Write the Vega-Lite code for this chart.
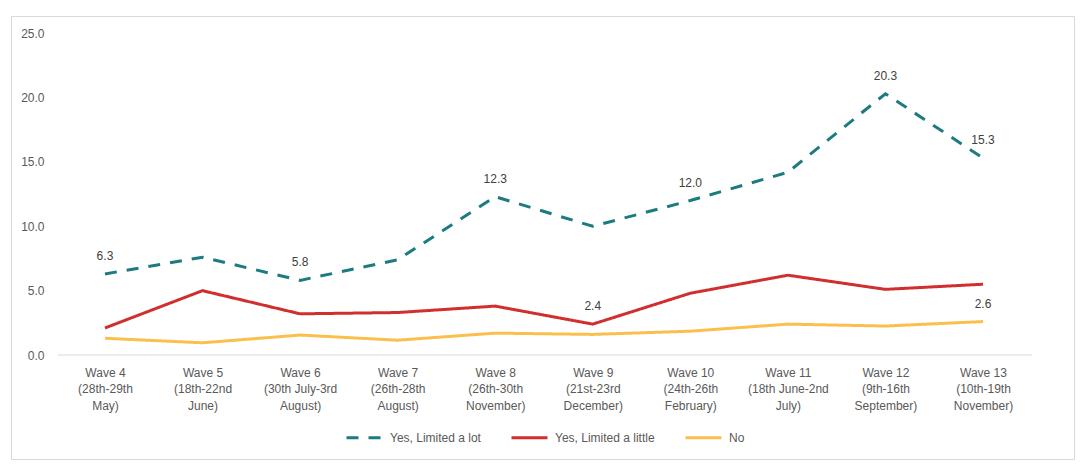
{
  "$schema": "https://vega.github.io/schema/vega-lite/v6.json",
  "width": 1063,
  "height": 443,
  "autosize": {"type": "none"},
  "padding": {"left": 11, "top": 16, "right": 11, "bottom": 17},
  "background": "white",
  "config": {
    "view": {"stroke": "#d9d9d9", "strokeWidth": 1},
    "font": "Liberation Sans",
    "text": {"font": "Liberation Sans"}
  },
  "datasets": {
    "series": [
      {"wave": "Wave 4|(28th-29th|May)", "series": "Yes, Limited a lot", "value": 6.3, "labeled": true},
      {"wave": "Wave 5|(18th-22nd|June)", "series": "Yes, Limited a lot", "value": 7.6, "labeled": false},
      {"wave": "Wave 6|(30th July-3rd|August)", "series": "Yes, Limited a lot", "value": 5.8, "labeled": true},
      {"wave": "Wave 7|(26th-28th|August)", "series": "Yes, Limited a lot", "value": 7.4, "labeled": false},
      {"wave": "Wave 8|(26th-30th|November)", "series": "Yes, Limited a lot", "value": 12.3, "labeled": true},
      {"wave": "Wave 9|(21st-23rd|December)", "series": "Yes, Limited a lot", "value": 10.0, "labeled": false},
      {"wave": "Wave 10|(24th-26th|February)", "series": "Yes, Limited a lot", "value": 12.0, "labeled": true},
      {"wave": "Wave 11|(18th June-2nd|July)", "series": "Yes, Limited a lot", "value": 14.2, "labeled": false},
      {"wave": "Wave 12|(9th-16th|September)", "series": "Yes, Limited a lot", "value": 20.3, "labeled": true},
      {"wave": "Wave 13|(10th-19th|November)", "series": "Yes, Limited a lot", "value": 15.3, "labeled": true},
      {"wave": "Wave 4|(28th-29th|May)", "series": "Yes, Limited a little", "value": 2.1, "labeled": false},
      {"wave": "Wave 5|(18th-22nd|June)", "series": "Yes, Limited a little", "value": 5.0, "labeled": false},
      {"wave": "Wave 6|(30th July-3rd|August)", "series": "Yes, Limited a little", "value": 3.2, "labeled": false},
      {"wave": "Wave 7|(26th-28th|August)", "series": "Yes, Limited a little", "value": 3.3, "labeled": false},
      {"wave": "Wave 8|(26th-30th|November)", "series": "Yes, Limited a little", "value": 3.8, "labeled": false},
      {"wave": "Wave 9|(21st-23rd|December)", "series": "Yes, Limited a little", "value": 2.4, "labeled": true},
      {"wave": "Wave 10|(24th-26th|February)", "series": "Yes, Limited a little", "value": 4.8, "labeled": false},
      {"wave": "Wave 11|(18th June-2nd|July)", "series": "Yes, Limited a little", "value": 6.2, "labeled": false},
      {"wave": "Wave 12|(9th-16th|September)", "series": "Yes, Limited a little", "value": 5.1, "labeled": false},
      {"wave": "Wave 13|(10th-19th|November)", "series": "Yes, Limited a little", "value": 5.5, "labeled": false},
      {"wave": "Wave 4|(28th-29th|May)", "series": "No", "value": 1.3, "labeled": false},
      {"wave": "Wave 5|(18th-22nd|June)", "series": "No", "value": 0.95, "labeled": false},
      {"wave": "Wave 6|(30th July-3rd|August)", "series": "No", "value": 1.55, "labeled": false},
      {"wave": "Wave 7|(26th-28th|August)", "series": "No", "value": 1.15, "labeled": false},
      {"wave": "Wave 8|(26th-30th|November)", "series": "No", "value": 1.7, "labeled": false},
      {"wave": "Wave 9|(21st-23rd|December)", "series": "No", "value": 1.6, "labeled": false},
      {"wave": "Wave 10|(24th-26th|February)", "series": "No", "value": 1.85, "labeled": false},
      {"wave": "Wave 11|(18th June-2nd|July)", "series": "No", "value": 2.4, "labeled": false},
      {"wave": "Wave 12|(9th-16th|September)", "series": "No", "value": 2.25, "labeled": false},
      {"wave": "Wave 13|(10th-19th|November)", "series": "No", "value": 2.6, "labeled": true}
    ]
  },
  "layer": [
    {
      "data": {"values": [{"baseline": 0}]},
      "mark": {"type": "rule", "color": "#d9d9d9", "strokeWidth": 1, "xOffset": -47, "x2Offset": 49},
      "encoding": {
        "x": {"datum": "Wave 4|(28th-29th|May)", "type": "ordinal"},
        "x2": {"datum": "Wave 13|(10th-19th|November)"},
        "y": {"field": "baseline", "type": "quantitative"}
      }
    },
    {
      "data": {"name": "series"},
      "mark": {"type": "line", "strokeWidth": 3},
      "encoding": {
        "x": {
          "field": "wave",
          "type": "ordinal",
          "scale": {
            "type": "point",
            "domain": ["Wave 4|(28th-29th|May)", "Wave 5|(18th-22nd|June)", "Wave 6|(30th July-3rd|August)", "Wave 7|(26th-28th|August)", "Wave 8|(26th-30th|November)", "Wave 9|(21st-23rd|December)", "Wave 10|(24th-26th|February)", "Wave 11|(18th June-2nd|July)", "Wave 12|(9th-16th|September)", "Wave 13|(10th-19th|November)"],
            "padding": 0.948,
            "align": 0.508
          },
          "axis": {
            "title": null,
            "orient": "bottom",
            "offset": -104,
            "domain": false,
            "ticks": false,
            "tickSize": 0,
            "grid": false,
            "labelPadding": 17,
            "labelExpr": "split(datum.label, '|')",
            "labelLineHeight": 16.7,
            "labelAngle": 0,
            "labelAlign": "center",
            "labelFontSize": 12,
            "labelColor": "#595959",
            "labelFont": "Liberation Sans",
            "labelLimit": 200,
            "labelOverlap": false
          }
        },
        "y": {
          "field": "value",
          "type": "quantitative",
          "scale": {"domain": [-8.08, 26.34], "nice": false, "zero": false},
          "axis": {
            "title": null,
            "orient": "left",
            "offset": -40,
            "values": [0, 5, 10, 15, 20, 25],
            "format": ".1f",
            "domain": false,
            "ticks": false,
            "tickSize": 0,
            "grid": false,
            "labelPadding": 7,
            "labelFontSize": 12,
            "labelColor": "#595959",
            "labelFont": "Liberation Sans"
          }
        },
        "color": {
          "field": "series",
          "type": "nominal",
          "scale": {
            "domain": ["Yes, Limited a lot", "Yes, Limited a little", "No"],
            "range": ["#1b7b80", "#d12f2f", "#fbc04b"]
          },
          "legend": {
            "title": null,
            "orient": "none",
            "legendX": 334,
            "legendY": 402,
            "direction": "horizontal",
            "symbolType": "stroke",
            "symbolSize": 1296,
            "symbolStrokeWidth": 3,
            "labelFontSize": 12,
            "labelColor": "#595959",
            "labelFont": "Liberation Sans",
            "labelOffset": 6,
            "columnPadding": 24
          }
        },
        "strokeDash": {
          "field": "series",
          "type": "nominal",
          "scale": {
            "domain": ["Yes, Limited a lot", "Yes, Limited a little", "No"],
            "range": [[12, 10], [1, 0], [1, 0]]
          },
          "legend": {
            "title": null,
            "orient": "none",
            "legendX": 334,
            "legendY": 402,
            "direction": "horizontal",
            "symbolType": "stroke",
            "symbolSize": 1296,
            "symbolStrokeWidth": 3,
            "labelFontSize": 12,
            "labelColor": "#595959",
            "labelFont": "Liberation Sans",
            "labelOffset": 6,
            "columnPadding": 24
          }
        }
      }
    },
    {
      "data": {"name": "series"},
      "transform": [{"filter": "datum.labeled"}],
      "mark": {"type": "text", "dy": -18, "fontSize": 12, "color": "#404040", "font": "Liberation Sans"},
      "encoding": {
        "x": {"field": "wave", "type": "ordinal"},
        "y": {"field": "value", "type": "quantitative"},
        "text": {"field": "value", "type": "quantitative", "format": ".1f"}
      }
    }
  ]
}
